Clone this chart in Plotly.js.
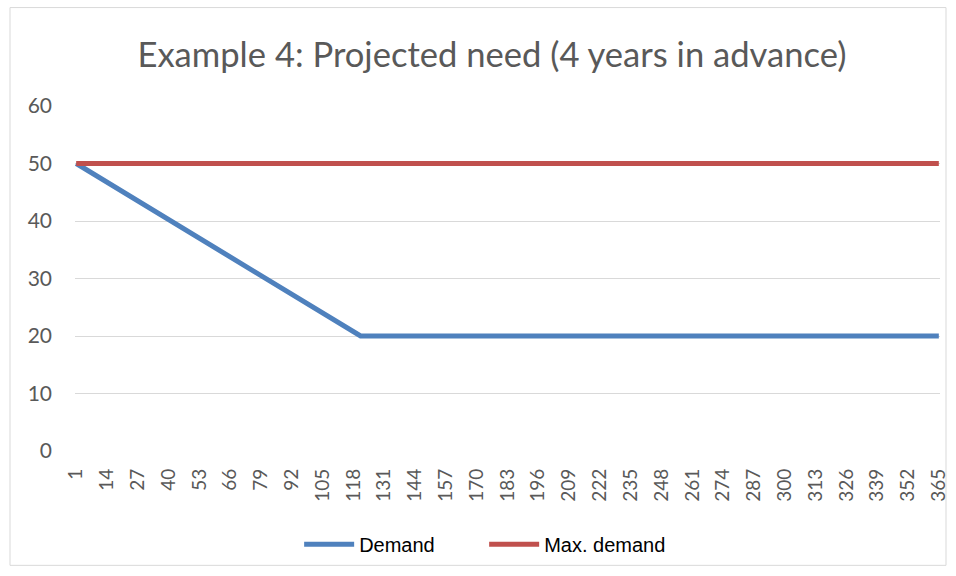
<!DOCTYPE html>
<html>
<head>
<meta charset="utf-8">
<script src="https://cdn.plot.ly/plotly-3.0.1.min.js"></script>
<style>
html,body{margin:0;padding:0;background:#fff;}
#chart{width:956px;height:576px;}
</style>
</head>
<body>
<div id="chart"></div>
<script>
// Data
const demandDays = [1, 121, 365];
const demandValues = [50, 20, 20];
const maxDays = [1, 365];
const maxValues = [50, 50];
const tickDays = [1,14,27,40,53,66,79,92,105,118,131,144,157,170,183,196,209,222,235,248,261,274,287,300,313,326,339,352,365];
const tickLabels = tickDays.map(String);
const yTicks = [0,10,20,30,40,50,60];

const traces = [
  {x: demandDays, y: demandValues, type: 'scatter', mode: 'lines', name: 'Demand',
   line: {color: '#4F81BD', width: 5}},
  {x: maxDays, y: maxValues, type: 'scatter', mode: 'lines', name: 'Max. demand',
   line: {color: '#C0504D', width: 5}}
];

const gray = '#595959';
const layout = {
  width: 956, height: 576,
  paper_bgcolor: '#fff', plot_bgcolor: '#fff',
  margin: {l: 75, r: 16, t: 106, b: 123},
  title: {text: 'Example 4: Projected need (4 years in advance)',
          font: {family: 'Lato, sans-serif', size: 34.6, color: gray},
          x: 0.482, xref: 'paper', xanchor: 'center', y: 0.905, yanchor: 'middle'},
  xaxis: {range: [0.5, 365.5], tickmode: 'array', tickvals: tickDays, ticktext: tickLabels,
          tickangle: -90, showgrid: false, zeroline: false, showline: false, ticks: '',
          ticklabelstandoff: 13,
          tickfont: {family: 'Lato, sans-serif', size: 19, color: gray}, fixedrange: true},
  yaxis: {range: [0, 60], tickmode: 'array', tickvals: yTicks, showgrid: true,
          gridcolor: '#D9D9D9', gridwidth: 1, zeroline: false, showline: false, ticks: '',
          ticklabelstandoff: 22,
          tickfont: {family: 'Lato, sans-serif', size: 21, color: gray}, fixedrange: true},
  showlegend: true,
  legend: {orientation: 'h', x: 0.473, xanchor: 'center', y: -0.27, yanchor: 'middle',
           font: {family: 'Liberation Sans, Arial, sans-serif', size: 20, color: '#000'},
           itemwidth: 50, entrywidth: 120, entrywidthmode: 'pixels'},
  shapes: [{type: 'rect', xref: 'paper', yref: 'paper',
            x0: (10 - 75) / 865, x1: (946 - 75) / 865,
            y0: (453 - 568) / 347, y1: (453 - 7) / 347,
            line: {color: '#D9D9D9', width: 1}, fillcolor: 'rgba(0,0,0,0)', layer: 'below'}]
};

Plotly.newPlot('chart', traces, layout, {displayModeBar: false, staticPlot: true});
</script>
</body>
</html>
